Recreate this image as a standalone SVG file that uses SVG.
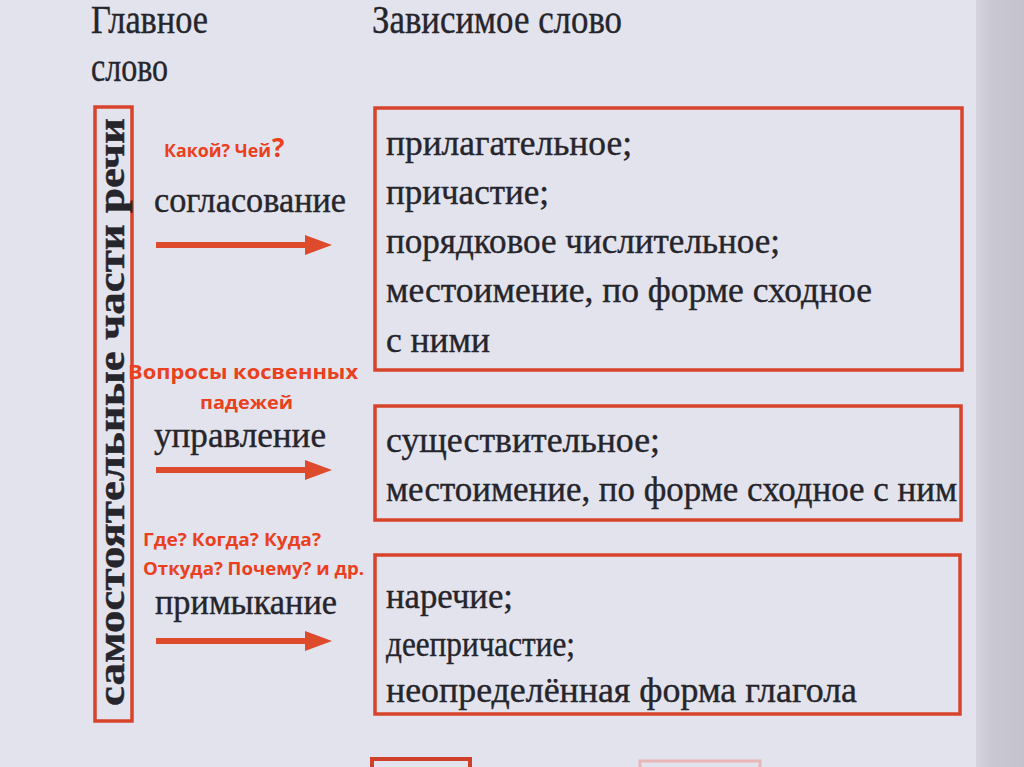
<svg xmlns="http://www.w3.org/2000/svg" width="1024" height="767" viewBox="0 0 1024 767">
  <defs>
    <linearGradient id="edge" x1="0" y1="0" x2="1" y2="0">
      <stop offset="0" stop-color="#d6d5df"/>
      <stop offset="0.3" stop-color="#c9c8d3"/>
      <stop offset="1" stop-color="#c3c2cd"/>
    </linearGradient>
    <marker id="ah" markerUnits="userSpaceOnUse" markerWidth="28" markerHeight="22" refX="0" refY="11" orient="auto" viewBox="0 0 28 22">
      <path d="M0,1 L27,11 L0,21 z" fill="#de4a2c"/>
    </marker>
  </defs>
  <style>
    .ser { font-family: "Liberation Serif", "DejaVu Serif", serif; fill: #26252b; stroke: #26252b; stroke-width: 0.4; }
    .hdr { font-size: 39px; }
    .lbl { font-size: 36px; }
    .itm { font-size: 36px; }
    .red { font-family: "Open Sans", "Liberation Sans", sans-serif; font-weight: 700; fill: #ea401d; }
    .box { fill: none; stroke: #d8432b; stroke-width: 3.5; }
    .arr { stroke: #de4a2c; stroke-width: 6; fill: none; marker-end: url(#ah); }
  </style>
  <rect x="0" y="0" width="1024" height="767" fill="#e3e3ed"/>
  <rect x="976" y="0" width="48" height="767" fill="url(#edge)"/>

  <g id="headers">
    <text class="ser hdr" x="91" y="33" textLength="117" lengthAdjust="spacingAndGlyphs">Главное</text>
    <text class="ser hdr" x="91" y="81" textLength="77" lengthAdjust="spacingAndGlyphs">слово</text>
    <text class="ser hdr" x="372" y="33" textLength="250" lengthAdjust="spacingAndGlyphs">Зависимое слово</text>
  </g>

  <g id="main-word">
    <rect class="box" x="95" y="107" width="37" height="614"/>
    <text class="ser" font-size="37" font-weight="bold" stroke-width="0" transform="translate(124,706) rotate(-90)" textLength="588" lengthAdjust="spacingAndGlyphs">самостоятельные части речи</text>
  </g>

  <g id="box-soglasovanie">
    <rect class="box" x="375" y="108" width="587" height="262"/>
    <text class="ser itm" x="386" y="155" textLength="246" lengthAdjust="spacingAndGlyphs">прилагательное;</text>
    <text class="ser itm" x="386" y="204" textLength="163" lengthAdjust="spacingAndGlyphs">причастие;</text>
    <text class="ser itm" x="386" y="253" textLength="394" lengthAdjust="spacingAndGlyphs">порядковое числительное;</text>
    <text class="ser itm" x="386" y="302" textLength="486" lengthAdjust="spacingAndGlyphs">местоимение, по форме сходное</text>
    <text class="ser itm" x="386" y="352" textLength="104" lengthAdjust="spacingAndGlyphs">с ними</text>
  </g>

  <g id="box-upravlenie">
    <rect class="box" x="375" y="406" width="586" height="114"/>
    <text class="ser itm" x="386" y="452" textLength="274" lengthAdjust="spacingAndGlyphs">существительное;</text>
    <text class="ser itm" x="386" y="501" textLength="571" lengthAdjust="spacingAndGlyphs">местоимение, по форме сходное с ним</text>
  </g>

  <g id="box-primykanie">
    <rect class="box" x="375" y="555" width="585" height="159"/>
    <text class="ser itm" x="386" y="608" textLength="127" lengthAdjust="spacingAndGlyphs">наречие;</text>
    <text class="ser itm" x="386" y="656" textLength="189" lengthAdjust="spacingAndGlyphs">деепричастие;</text>
    <text class="ser itm" x="386" y="702" textLength="471" lengthAdjust="spacingAndGlyphs">неопределённая форма глагола</text>
  </g>

  <g id="bottom-fragments">
    <rect x="372" y="759" width="98" height="14" fill="none" stroke="#cf3f2a" stroke-width="4"/>
    <rect x="640" y="761" width="120" height="14" fill="none" stroke="#e9a3a0" stroke-width="3" opacity="0.7"/>
  </g>

  <g id="labels">
    <text class="ser lbl" x="154" y="212" textLength="192" lengthAdjust="spacingAndGlyphs">согласование</text>
    <text class="ser lbl" x="154" y="447" textLength="172" lengthAdjust="spacingAndGlyphs">управление</text>
    <text class="ser lbl" x="155" y="614" textLength="182" lengthAdjust="spacingAndGlyphs">примыкание</text>
  </g>

  <g id="questions">
    <text class="red" x="164" y="157" font-size="17"><tspan textLength="107" lengthAdjust="spacingAndGlyphs">Какой? Чей</tspan><tspan font-size="26" dx="1">?</tspan></text>
    <text class="red" x="128" y="379" font-size="19" textLength="230" lengthAdjust="spacingAndGlyphs">Вопросы косвенных</text>
    <text class="red" x="200" y="409" font-size="18" textLength="93" lengthAdjust="spacingAndGlyphs">падежей</text>
    <text class="red" x="143" y="546" font-size="17" textLength="178" lengthAdjust="spacingAndGlyphs">Где? Когда? Куда?</text>
    <text class="red" x="143" y="575" font-size="17" textLength="221" lengthAdjust="spacingAndGlyphs">Откуда? Почему? и др.</text>
  </g>

  <g id="connectors">
    <line class="arr" x1="156" y1="245" x2="305" y2="245"/>
    <line class="arr" x1="156" y1="470" x2="305" y2="470"/>
    <line class="arr" x1="156" y1="641" x2="305" y2="641"/>
  </g>
</svg>
